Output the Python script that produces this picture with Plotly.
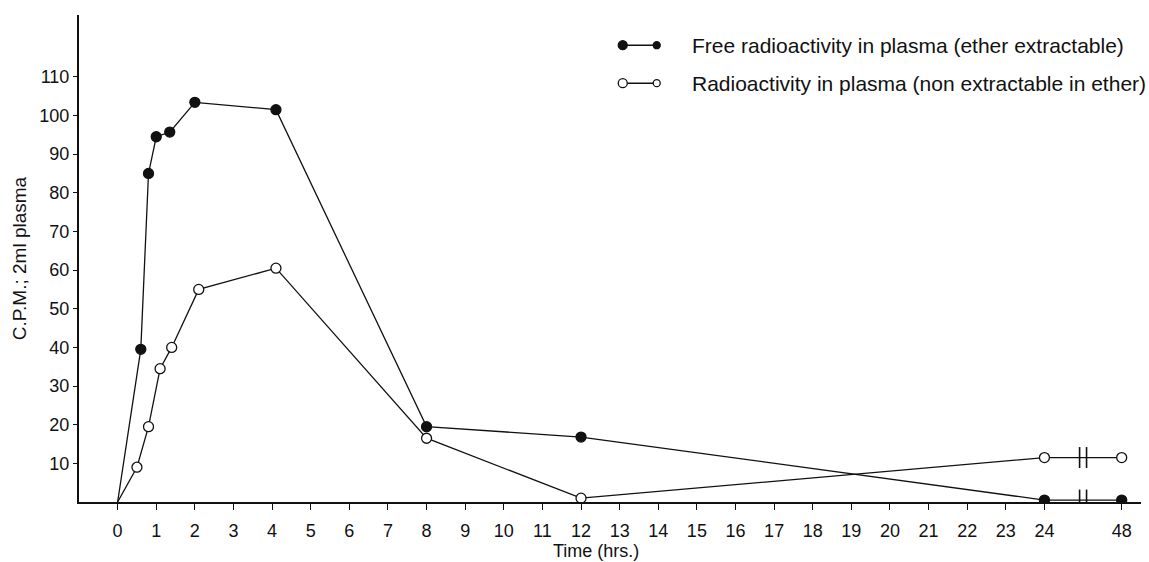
import plotly.graph_objects as go

# Sampling times (hours) and counts for the two plasma fractions
free_time = [0, 0.6, 0.8, 1.0, 1.35, 2.0, 4.1, 8, 12, 24, 48]
free_cpm = [0, 39.5, 85, 94.5, 95.7, 103.4, 101.5, 19.5, 16.8, 0.5, 0.5]

bound_time = [0, 0.5, 0.8, 1.1, 1.4, 2.1, 4.1, 8, 12, 24, 48]
bound_cpm = [0, 9, 19.5, 34.5, 40, 55, 60.5, 16.5, 1, 11.5, 11.5]

x_ticks = list(range(0, 25)) + [48]
y_ticks = [10, 20, 30, 40, 50, 60, 70, 80, 90, 100, 110]

free_label = "Free radioactivity in plasma (ether extractable)"
bound_label = "Radioactivity in plasma (non extractable in ether)"

# The time axis is broken between 24 h and 48 h: 48 h is drawn two units past 24 h
BREAK_START = 24
BREAK_GAP = 2


def axis_pos(t):
    return t if t <= BREAK_START else BREAK_START + BREAK_GAP


FONT = "Liberation Sans, Arial, sans-serif"
INK = "#111111"

fig = go.Figure()


def add_series(times, values, filled):
    xs = [axis_pos(t) for t in times]
    sizes = [0 if t == 0 else 10 for t in times]
    fig.add_trace(go.Scatter(
        x=xs, y=values, mode="lines+markers",
        line=dict(color=INK, width=1.3),
        marker=dict(size=sizes, color=INK if filled else "white", opacity=1,
                    line=dict(color=INK, width=1.3)),
        showlegend=False, hoverinfo="skip",
    ))
    # break marks on the segment running from 24 h to 48 h
    mid = BREAK_START + BREAK_GAP / 2
    yb = values[-1]
    fig.add_trace(go.Scatter(
        x=[mid - 0.09, mid + 0.09], y=[yb, yb], mode="markers",
        marker=dict(symbol="line-ns-open", size=15, color=INK, opacity=1,
                    line=dict(color=INK, width=1.6)),
        showlegend=False, hoverinfo="skip",
    ))


add_series(free_time, free_cpm, True)
add_series(bound_time, bound_cpm, False)

fig.update_layout(
    width=1149, height=562,
    margin=dict(l=79, r=8, t=15, b=60),
    paper_bgcolor="white", plot_bgcolor="white",
    font=dict(family=FONT, size=18, color=INK),
    xaxis=dict(
        range=[-1, 26.5],
        tickmode="array",
        tickvals=[axis_pos(t) for t in x_ticks],
        ticktext=[str(t) for t in x_ticks],
        ticks="outside", ticklen=6, tickwidth=1.2, tickcolor=INK,
        ticklabelstandoff=5,
        showline=True, linecolor=INK, linewidth=2,
        showgrid=False, zeroline=False,
        tickfont=dict(size=18),
    ),
    yaxis=dict(
        range=[0, 126],
        tickmode="array",
        tickvals=y_ticks,
        ticktext=[str(v) for v in y_ticks],
        ticks="outside", ticklen=4, tickwidth=1.2, tickcolor=INK,
        showline=True, linecolor=INK, linewidth=2,
        showgrid=False, zeroline=False,
        tickfont=dict(size=18),
        title=dict(text="C.P.M.; 2ml plasma", font=dict(size=19), standoff=8),
    ),
)

# x-axis title
fig.add_annotation(
    x=12.4, xref="x", y=-0.1, yref="paper",
    text="Time (hrs.)", showarrow=False,
    font=dict(size=18), xanchor="center", yanchor="middle",
)

# Hand-built key: marker, line, marker, then the description
key_rows = [(0.938, free_label, True), (0.860, bound_label, False)]
for ky, label, filled in key_rows:
    x_left, x_right = 0.512, 0.544
    fig.add_shape(type="line", xref="paper", yref="paper",
                  x0=x_left, x1=x_right, y0=ky, y1=ky,
                  line=dict(color=INK, width=1.5))
    for kx, r in ((x_left, 4.5), (x_right, 3.5)):
        fig.add_shape(type="circle", xref="paper", yref="paper",
                      xsizemode="pixel", ysizemode="pixel",
                      xanchor=kx, yanchor=ky,
                      x0=-r, x1=r, y0=-r, y1=r,
                      fillcolor=INK if filled else "white",
                      line=dict(color=INK, width=1.3))
    fig.add_annotation(x=0.575, xref="paper", y=ky, yref="paper",
                       text=label, showarrow=False,
                       xanchor="left", yanchor="middle",
                       font=dict(size=21))

fig.write_html("out.html")
